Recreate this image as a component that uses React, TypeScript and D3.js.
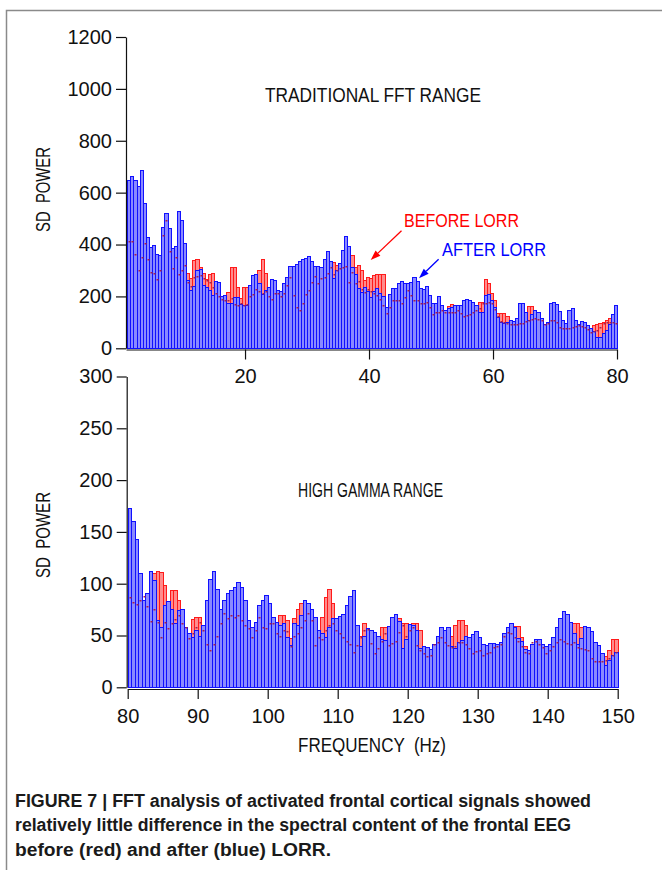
// FFT power spectra before / after LORR, two stacked panels drawn with D3.
import { useEffect, useRef } from "react";
import * as d3 from "d3";

// every bar is a 0.5 Hz bin; the first panel starts at 1 Hz, the second at 80 Hz
const binWidth = 0.5;
const lowStart = 1;
const highStart = 80;

const lowAfter = [
  650, 665, 650, 625, 688, 560, 428, 392, 398, 365,
  360, 468, 523, 462, 386, 394, 528, 494, 405, 265,
  225, 240, 300, 305, 245, 237, 224, 205, 258, 256,
  202, 205, 175, 173, 199, 199, 170, 167, 167, 244,
  282, 288, 250, 208, 225, 237, 269, 262, 225, 222,
  250, 276, 318, 318, 325, 336, 344, 350, 357, 338,
  316, 318, 315, 345, 376, 335, 272, 301, 330, 380,
  432, 395, 315, 285, 231, 218, 237, 222, 199, 220,
  231, 215, 200, 160, 210, 231, 233, 250, 258, 250,
  250, 256, 276, 260, 231, 230, 240, 205, 173, 175,
  202, 165, 147, 154, 158, 167, 168, 166, 185, 190,
  186, 178, 165, 140, 140, 205, 210, 186, 160, 122,
  100, 98, 103, 109, 107, 115, 173, 175, 140, 109,
  132, 147, 141, 115, 93, 100, 176, 179, 170, 145,
  110, 96, 147, 155, 110, 93, 105, 100, 90, 77,
  65, 45, 42, 58, 71, 95, 132, 168,
];

const lowBefore = [
  645, 660, 640, 620, 680, 555, 420, 385, 390, 360,
  355, 460, 515, 455, 380, 390, 520, 488, 400, 290,
  270, 342, 346, 314, 290, 268, 288, 290, 240, 240,
  190, 195, 218, 314, 314, 237, 195, 237, 237, 237,
  275, 280, 300, 344, 291, 230, 260, 240, 220, 215,
  245, 270, 310, 310, 318, 330, 338, 345, 350, 332,
  310, 312, 310, 340, 370, 330, 332, 320, 325, 372,
  425, 390, 361, 314, 320, 300, 265, 275, 270, 282,
  285, 288, 286, 150, 205, 225, 228, 245, 252, 245,
  245, 250, 270, 255, 225, 225, 235, 200, 168, 170,
  198, 160, 145, 163, 169, 162, 163, 160, 180, 185,
  180, 172, 160, 179, 180, 269, 250, 212, 188, 135,
  135, 138, 125, 110, 104, 110, 168, 170, 136, 164,
  164, 145, 136, 110, 90, 96, 170, 174, 165, 140,
  106, 92, 142, 150, 106, 90, 100, 96, 86, 80,
  88, 95, 96, 103, 111, 115, 112, 103,
];

const lowDots = [
  414, 414, 365, 301, 352, 404, 346, 295, 290, 269,
  301, 436, 494, 376, 308, 352, 288, 300, 320, 255,
  240, 275, 278, 282, 270, 262, 255, 235, 215, 200,
  190, 186, 188, 192, 170, 165, 173, 166, 170, 200,
  211, 230, 220, 214, 222, 200, 190, 215, 215, 200,
  215, 244, 273, 205, 160, 147, 175, 210, 225, 255,
  280, 250, 270, 276, 290, 314, 285, 300, 310, 314,
  317, 256, 295, 250, 260, 230, 218, 227, 220, 215,
  205, 190, 165, 135, 160, 186, 186, 186, 173, 197,
  224, 205, 186, 186, 175, 175, 180, 160, 132, 141,
  141, 147, 141, 141, 141, 141, 147, 135, 124, 128,
  132, 141, 147, 154, 173, 176, 179, 173, 150, 125,
  105, 100, 96, 95, 94, 95, 97, 99, 104, 109,
  112, 115, 113, 111, 92, 98, 109, 109, 100, 83,
  80, 77, 80, 83, 87, 90, 86, 83, 75, 64,
  66, 71, 82, 96, 100, 103, 100, 98,
];

const highAfter = [
  173, 161, 143, 110, 84, 91, 112, 104, 65, 58,
  79, 83, 76, 62, 75, 76, 58, 52, 49, 55,
  50, 60, 84, 105, 112, 95, 76, 84, 91, 94,
  97, 102, 97, 84, 65, 58, 63, 79, 84, 89,
  81, 68, 63, 60, 62, 49, 41, 62, 60, 70,
  84, 81, 76, 68, 55, 52, 49, 58, 67, 67,
  69, 71, 79, 88, 94, 60, 40, 50, 57, 55,
  53, 50, 47, 46, 59, 68, 71, 64, 38, 47,
  61, 60, 55, 38, 40, 39, 37, 42, 50, 58,
  55, 58, 40, 38, 44, 46, 50, 49, 51, 54,
  49, 42, 41, 43, 43, 42, 44, 52, 58, 62,
  58, 48, 45, 37, 36, 42, 47, 47, 42, 40,
  42, 49, 58, 67, 74, 71, 63, 52, 42, 48,
  59, 58, 54, 44, 41, 33, 22, 26, 31, 34,
];

const highBefore = [
  170, 158, 140, 106, 80, 88, 108, 110, 112, 111,
  99, 80, 94, 94, 84, 72, 55, 50, 66, 68,
  68, 58, 80, 100, 108, 90, 72, 80, 88, 90,
  93, 98, 93, 80, 62, 55, 60, 76, 80, 85,
  78, 65, 60, 70, 70, 65, 48, 67, 76, 81,
  82, 78, 73, 65, 52, 68, 87, 95, 81, 64,
  66, 68, 76, 85, 90, 55, 50, 62, 54, 52,
  50, 48, 58, 58, 56, 65, 68, 67, 62, 62,
  58, 62, 62, 55, 38, 37, 35, 40, 48, 55,
  52, 55, 50, 60, 65, 65, 60, 47, 49, 52,
  47, 40, 39, 41, 41, 40, 42, 50, 55, 59,
  59, 59, 49, 40, 34, 40, 45, 45, 40, 38,
  40, 47, 55, 64, 70, 68, 62, 62, 62, 58,
  56, 55, 52, 42, 39, 31, 30, 36, 47, 47,
];

const highDots = [
  87, 82, 80, 84, 88, 78, 64, 76, 63, 49,
  63, 57, 62, 66, 70, 62, 58, 48, 52, 58,
  63, 55, 42, 36, 42, 50, 62, 72, 67, 70,
  68, 70, 65, 60, 57, 49, 55, 68, 58, 57,
  62, 62, 52, 50, 55, 54, 40, 50, 52, 58,
  65, 72, 65, 41, 49, 47, 55, 60, 62, 55,
  52, 49, 45, 42, 34, 41, 49, 55, 56, 43,
  33, 38, 45, 52, 41, 43, 45, 53, 60, 50,
  55, 58, 41, 36, 33, 30, 31, 42, 44, 49,
  44, 41, 39, 40, 44, 44, 42, 38, 33, 35,
  36, 31, 33, 34, 39, 40, 42, 50, 53, 52,
  49, 45, 40, 34, 33, 44, 45, 42, 39, 33,
  36, 40, 44, 47, 45, 43, 42, 44, 39, 38,
  37, 36, 28, 25, 25, 25, 26, 28, 31, 34,
];

const lowYTicks = [0, 200, 400, 600, 800, 1000, 1200];
const lowXTicks = [20, 40, 60, 80];
const highYTicks = [0, 50, 100, 150, 200, 250, 300];
const highXTicks = [80, 90, 100, 110, 120, 130, 140, 150];

const captionLines = [
  "FIGURE 7 | FFT analysis of activated frontal cortical signals showed",
  "relatively little difference in the spectral content of the frontal EEG",
  "before (red) and after (blue) LORR.",
];

const FONT = "'Liberation Sans', Arial, Helvetica, sans-serif";
const NARROW = "'Liberation Sans Narrow', 'Liberation Sans', Arial, sans-serif";

function drawPanel(svg, p) {
  const g = svg.append("g");
  const f = (i) => p.start + i * binWidth;
  // snap bar edges to whole pixels so the 1px outlines stay crisp
  const left = (i) => Math.round(p.x(f(i)));
  const right = (i) => Math.round(p.x(f(i) + binWidth));

  const bars = (vals, fill, stroke) =>
    g.append("g").selectAll("rect").data(vals).join("rect")
      .attr("x", (d, i) => left(i) + 0.5)
      .attr("width", (d, i) => right(i) - left(i))
      .attr("y", (d) => Math.round(p.y(d)) + 0.5)
      .attr("height", (d) => Math.round(p.y(0)) - Math.round(p.y(d)))
      .attr("fill", fill).attr("stroke", stroke).attr("stroke-width", 1);

  bars(p.before, "#ff8c8c", "#ff1a1a"); // red underneath
  bars(p.after, "#8a8aff", "#1010ff"); // blue on top

  g.append("g").selectAll("rect").data(p.dots).join("rect")
    .attr("x", (d, i) => left(i) + 1.5)
    .attr("width", 2)
    .attr("y", (d) => Math.round(p.y(d)))
    .attr("height", 1.5)
    .attr("fill", "#a3204f");

  const ya = svg.append("g").attr("transform", `translate(${p.axisX},0)`)
    .call(d3.axisLeft(p.y).tickValues(p.yTicks).tickFormat(d3.format("d"))
      .tickSize(10).tickPadding(4).tickSizeOuter(0));
  const xa = svg.append("g").attr("transform", `translate(0,${p.axisY})`)
    .call(d3.axisBottom(p.x).tickValues(p.xTicks).tickFormat(d3.format("d"))
      .tickSize(10).tickPadding(p.xPad).tickSizeOuter(0));

  [ya, xa].forEach((a) => {
    a.selectAll("text").attr("font-size", 20).attr("font-family", FONT).attr("fill", "#111");
    a.selectAll("line,path").attr("stroke", "#111").attr("stroke-width", 1.2);
  });
}

function arrow(svg, x1, y1, x2, y2, color) {
  const ang = Math.atan2(y2 - y1, x2 - x1);
  const len = 10;
  const w = 3.5;
  const bx = x2 - len * Math.cos(ang);
  const by = y2 - len * Math.sin(ang);
  svg.append("line").attr("x1", x1).attr("y1", y1).attr("x2", bx).attr("y2", by)
    .attr("stroke", color).attr("stroke-width", 1.3);
  svg.append("path")
    .attr("d", `M${x2},${y2}L${bx - w * Math.sin(ang)},${by + w * Math.cos(ang)}L${bx + w * Math.sin(ang)},${by - w * Math.cos(ang)}Z`)
    .attr("fill", color);
}

export default function App() {
  const ref = useRef(null);

  useEffect(() => {
    const svg = d3.select(ref.current);
    svg.selectAll("*").remove();

    svg.append("rect").attr("width", 662).attr("height", 870).attr("fill", "#fff");

    // frame of the figure
    svg.append("path").attr("d", "M6.5,870V10.5H662")
      .attr("fill", "none").attr("stroke", "#8a8a8a").attr("stroke-width", 1.5);

    const xLow = d3.scaleLinear().domain([0.8, 80]).range([126, 617]);
    const yLow = d3.scaleLinear().domain([0, 1200]).range([348.3, 37]);
    drawPanel(svg, {
      x: xLow, y: yLow, start: lowStart,
      after: lowAfter, before: lowBefore, dots: lowDots,
      yTicks: lowYTicks, xTicks: lowXTicks, axisX: 126, axisY: 349.5, xPad: 9,
    });

    const xHigh = d3.scaleLinear().domain([80, 150]).range([127.7, 617.7]);
    const yHigh = d3.scaleLinear().domain([0, 300]).range([687.3, 376.5]);
    drawPanel(svg, {
      x: xHigh, y: yHigh, start: highStart,
      after: highAfter, before: highBefore, dots: highDots,
      yTicks: highYTicks, xTicks: highXTicks, axisX: 126.7, axisY: 689, xPad: 10,
    });

    const label = (txt, x, y, len, size, color = "#111", rot = 0) =>
      svg.append("text").attr("x", x).attr("y", y)
        .attr("transform", rot ? `rotate(${rot},${x},${y})` : null)
        .attr("font-family", FONT).attr("font-size", size).attr("fill", color)
        .attr("textLength", len).attr("lengthAdjust", "spacingAndGlyphs")
        .style("white-space", "pre").text(txt);

    label("TRADITIONAL FFT RANGE", 265, 102, 216, 20);
    label("HIGH GAMMA RANGE", 298, 497, 145, 20);
    label("BEFORE LORR", 404, 226.5, 115, 19, "#ff0000");
    label("AFTER LORR", 442, 255.5, 104, 19, "#0000ff");
    label("SD  POWER", 50, 232, 85, 20, "#111", -90);
    label("SD  POWER", 50, 578, 86, 20, "#111", -90);
    label("FREQUENCY  (Hz)", 298, 752, 148, 20);

    arrow(svg, 401.5, 230.8, 370.7, 260, "#ff0000");
    arrow(svg, 438.6, 259.3, 419, 278.3, "#0000ff");

    const capLens = [576, 556, 316];
    captionLines.forEach((t, i) => {
      svg.append("text").attr("x", 15).attr("y", 807 + i * 24.3)
        .attr("font-family", NARROW).attr("font-weight", "bold").attr("font-size", 18)
        .attr("fill", "#1a1a1a")
        .attr("textLength", capLens[i]).attr("lengthAdjust", "spacingAndGlyphs")
        .text(t);
    });
  }, []);

  return (
    <div style={{ position: "absolute", left: 0, top: 0 }}>
      <svg ref={ref} width={662} height={870} />
    </div>
  );
}
